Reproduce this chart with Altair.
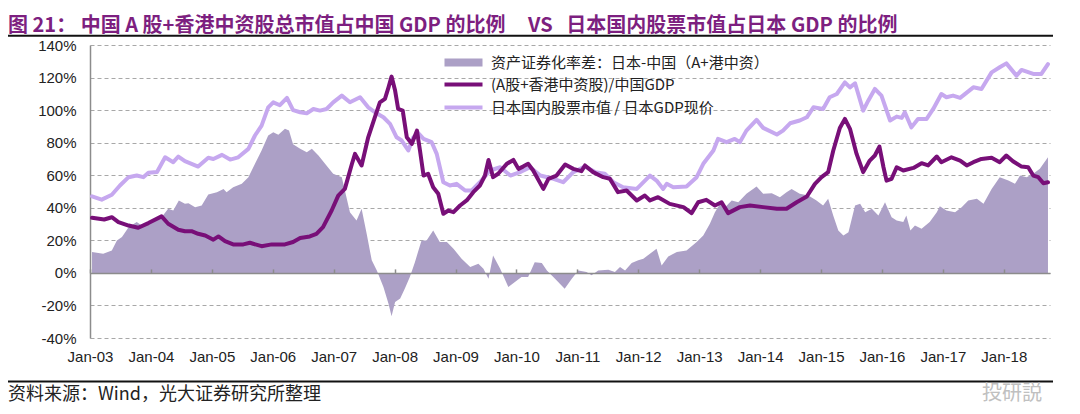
import altair as alt
import pandas as pd

# ---------------- text ----------------
NB = "\u00a0"
title_text = ("图 21：" + NB + "中国 A 股+香港中资股总市值占中国 GDP 的比例" + NB * 5 + "VS" + NB * 3
              + "日本国内股票市值占日本 GDP 的比例")
source_text = "资料来源：Wind，光大证券研究所整理"
watermark_text = "投研説"
area_name = "资产证券化率差：日本-中国（A+港中资）"
china_name = "(A股+香港中资股)/中国GDP"
japan_name = "日本国内股票市值 / 日本GDP现价"

# x = months since Jan-2003
year_ticks = [0, 12, 24, 36, 48, 60, 72, 84, 96, 108, 120, 132, 144, 156, 168, 180]
y_ticks = [-40, -20, 0, 20, 40, 60, 80, 100, 120, 140]

# ---------------- data (% of GDP) ----------------
japan_month = [0.4, 2.3, 4.3, 5.9, 7.6, 9.2, 10.5, 11.5, 13.2, 14.8, 16.4, 17.4, 18.7, 21.3, 23.3, 24.3,
               26.0, 27.6, 29.2, 31.2, 32.5, 33.8, 35.1, 36.1, 37.4, 38.8, 40.0, 41.4, 42.7, 44.0, 45.3,
               46.6, 47.9, 49.6, 51.2, 53.2, 54.8, 56.1, 57.8, 59.1, 60.4, 61.4, 62.7, 63.7, 64.7, 65.7,
               67.3, 68.3, 69.6, 70.9, 72.2, 73.9, 75.2, 76.8, 78.8, 80.8, 82.8, 84.7, 86.7, 88.7, 91.3,
               93.2, 95.2, 97.5, 99.5, 101.4, 103.1, 105.0, 107.7, 110.3, 111.6, 112.9, 113.6, 114.9,
               117.5, 119.5, 120.8, 122.8, 123.7, 125.4, 127.0, 128.0, 129.3, 131.3, 132.6, 135.3, 136.5,
               137.9, 139.8, 141.2, 142.5, 144.4, 145.7, 147.1, 148.7, 149.7, 150.7, 152.3, 153.3, 154.6,
               155.9, 157.6, 158.9, 159.9, 160.5, 161.8, 163.1, 164.8, 166.1, 167.7, 168.7, 170.0, 171.4,
               174.0, 175.6, 177.6, 179.2, 180.5, 182.5, 183.5, 185.8, 187.4, 188.7]
japan_value = [47, 45, 48, 53.7, 58.8, 59.8, 58.8, 61.5, 62, 71, 68, 71.5, 68.6, 65.3, 70.7, 70,
               72.5, 69.6, 71, 76.2, 84.4, 90.5, 101.7, 104.8, 103, 107.5, 100, 98.7, 98, 100.7, 99.7,
               100.7, 104.8, 108.9, 104.8, 107.9, 101.7, 98.7, 95.6, 91.5, 83.3, 81.3, 75.2, 83.3, 85.8, 82.3,
               80.3, 73.1, 55.7, 53.7, 54.7, 50.6, 50.6, 55.7, 62.9, 64.9, 59.8, 61.9, 64.9, 59.8, 57.8,
               55.7, 61.9, 65.3, 61.9, 60.9, 55.7, 52.6, 51.6, 59.8, 56.7, 51.6, 54.7, 52.6,
               53.1, 58.8, 67, 75.2, 82.3, 80.3, 82.3, 80.3, 87.4, 94, 89.1, 85, 87.4,
               91.9, 93.6, 95.6, 101.7, 100.7, 107.9, 109.9, 117, 114, 116.5, 99.7, 105.8, 113,
               108.9, 93.6, 96, 95.2, 98.7, 89.4, 94.6, 94.6, 100.7, 109.9, 107.9, 108.9, 107.5,
               114, 113, 123.2, 126.3, 128.7, 121.2, 124.7, 122.2, 122.2, 128.3]

china_month = [0.4, 2.8, 4.3, 5.6, 7.6, 9.5, 11.5, 14.1, 15.4, 17.4, 18.7, 20.0, 21.3, 22.7, 24.3, 25.3,
               26.6, 28.2, 30.2, 31.5, 33.8, 35.8, 38.4, 40.0, 41.4, 43.3, 44.6, 45.9, 47.6, 48.9, 50.2,
               51.6, 52.2, 53.5, 54.8, 56.1, 57.1, 58.1, 58.8, 59.4, 60.1, 60.7, 61.6, 62.4, 63.4, 64.4,
               65.0, 65.7, 66.6, 67.6, 68.6, 69.6, 70.6, 71.6, 72.9, 74.2, 75.5, 76.8, 77.8, 78.5, 79.4,
               80.4, 82.1, 83.4, 84.4, 85.3, 86.3, 87.3, 89.3, 90.3, 91.9, 93.6, 95.2, 96.8, 97.5, 99.1,
               101.1, 102.4, 104.0, 105.7, 107.7, 109.3, 110.3, 111.9, 114.2, 116.9, 118.5, 119.8, 121.4,
               123.1, 124.4, 125.7, 128.0, 130.0, 132.6, 135.3, 137.2, 139.2, 141.2, 142.8, 144.1, 145.4,
               146.4, 147.7, 148.7, 149.7, 151.0, 152.3, 153.6, 154.6, 155.5, 156.3, 156.9, 157.9, 158.9,
               160.2, 162.2, 163.8, 165.1, 166.8, 167.7, 169.7, 171.4, 172.7, 174.0, 175.6, 177.6, 179.2,
               180.5, 181.8, 183.5, 184.8, 185.8, 186.8, 187.8, 188.7]
china_value = [33.9, 32.8, 34.2, 31.2, 29.1, 27.7, 30.6, 34.7, 30.2, 26.5, 25.6, 25.6, 24, 23, 20.4, 22.4,
               19.5, 17.5, 17.5, 18.5, 16.4, 17.5, 17.5, 19, 21.4, 22.4, 24, 28.1, 38.3, 47.5, 51.6,
               67, 73.1, 66, 83.3, 95.6, 104.8, 106.9, 114, 120.6, 112, 100.7, 99.7, 83.3, 79.3, 87.4,
               75.2, 59.8, 60.9, 52.6, 48.6, 36.3, 38.3, 37.3, 41.4, 44.5, 49.6, 53.7, 59.8, 69.4, 58.8,
               60.9, 67, 69.4, 63.9, 65.3, 67, 62.9, 51.6, 57.8, 59.8, 66.6, 63.9, 62.5, 66, 61.9,
               58.8, 57.8, 49.6, 50.6, 44.5, 47.5, 44.5, 46.5, 42.4, 40.4, 36.7, 43.4, 44.9,
               41.4, 43.4, 36.7, 40.4, 41.4, 40.4, 39.4, 39.4, 43.4, 46.9, 54.7, 58.8, 61.9,
               75, 89, 94.6, 88.5, 73.1, 61.9, 69, 72.1, 77.6, 64.9, 56.7, 57.8, 64.9,
               62.9, 64.5, 67.4, 66, 71.5, 68, 71, 69, 66, 68, 70, 70.7, 68,
               72.1, 68.6, 65.3, 64.9, 59.8, 58.8, 55.1, 55.7]

gap_month = [0.4, 2.6, 4.3, 5.3, 6.3, 7.6, 9.2, 10.2, 12.2, 14.1, 15.4, 16.4, 17.5, 18.7, 19.4, 20.7,
             22.0, 23.3, 25.0, 26.3, 26.9, 28.2, 29.9, 31.2, 32.5, 33.8, 35.1, 36.1, 37.1, 38.4, 39.2,
             40.0, 41.4, 42.7, 43.7, 45.0, 46.3, 47.9, 49.6, 51.2, 52.5, 53.5, 54.5, 55.5, 56.5, 57.8,
             58.8, 59.4, 60.1, 61.1, 62.0, 63.0, 64.0, 65.3, 66.3, 67.6, 68.9, 70.3, 71.6, 73.2, 74.9,
             76.5, 77.5, 78.5, 79.4, 80.8, 82.4, 83.7, 85.0, 86.3, 87.6, 89.0, 90.0, 91.6, 93.5, 94.9,
             96.2, 97.8, 98.8, 100.1, 102.1, 103.4, 104.4, 105.4, 106.7, 108.0, 109.0, 110.3, 111.6,
             112.6, 113.9, 115.6, 117.5, 119.5, 120.8, 122.1, 123.1, 124.1, 125.1, 126.4, 127.7, 129.3,
             131.3, 132.6, 134.3, 135.9, 137.2, 138.2, 139.8, 141.5, 143.1, 144.4, 145.4, 146.4, 147.4,
             148.4, 149.4, 150.7, 151.7, 152.7, 154.0, 155.3, 156.6, 157.9, 158.9, 160.2, 160.8, 161.6,
             162.5, 163.8, 165.4, 166.8, 167.4, 168.7, 170.4, 171.7, 173.0, 174.7, 176.0, 177.6, 179.2,
             180.9, 182.2, 183.2, 184.5, 185.8, 187.1, 188.7]
gap_value = [12.8, 11.8, 13.8, 19.9, 22, 28.1, 31.2, 29.1, 32.2, 34.2, 39.4, 38.3, 44.5, 42.4, 42.8, 40.4,
             41.4, 48.2, 49.6, 51.6, 49.6, 52.6, 54.7, 58.8, 67, 75.2, 84.4, 86.4, 84.8, 88.5, 87.4,
             79, 76.2, 74.1, 76.2, 72.1, 67, 60.9, 58.8, 37.3, 32.2, 39.4, 24, 7.7, 1.5, -8.7,
             -18.9, -26.7, -17.9, -15.8, -9.7, -2.6, 6.6, 19.9, 19.9, 26, 18.9, 18.9, 14.8, 8.7, 3.6,
             5.6, 2.6, -3.6, 10.7, 2.6, -8.7, -5.6, -2.6, -2.6, 6.6, 6, 1.5, -3.6, -9.7, -3.6,
             1.5, 0.5, -1.5, 1.5, 2, 0.5, 3.6, 1.5, 6, 7.7, 8.7, 11.8, 14.8,
             4.6, 10.1, 12.8, 13.8, 18.9, 23, 30.2, 37.3, 42.4, 40.4, 44.5, 43.4, 48.6,
             53.1, 48.6, 49, 46.5, 49.6, 51.6, 48.6, 47.5, 44.5, 41.4, 45.5, 35.3, 26,
             23, 25, 41.4, 42.4, 37.3, 39.4, 35.3, 43.4, 34.2, 32.2, 31.2, 35.3, 26,
             29.1, 27.1, 31.2, 37.3, 41, 38.3, 37.3, 40.4, 44.5, 45.5, 42.4, 51.6, 58.8,
             56.7, 54.7, 59.8, 58.8, 60.9, 63.9, 71]

# ---------------- styling ----------------
W, H = 960, 293
AREA_C = "#aca0c6"
CHINA_C = "#780f78"
JAPAN_C = "#c6a8ef"
TITLE_C = "#7d1f80"
CJK = "Noto Sans CJK SC"
LATIN = "Liberation Sans"

gap_df = pd.DataFrame({"m": gap_month, "v": gap_value, "name": area_name})
japan_df = pd.DataFrame({"m": japan_month, "v": japan_value, "name": japan_name})
china_df = pd.DataFrame({"m": china_month, "v": china_value, "name": china_name})

xs = alt.Scale(domain=[0, 189.1], nice=False, zero=False)
ys = alt.Scale(domain=[-40, 140], nice=False)

y_axis = alt.Axis(values=y_ticks, labelExpr="datum.value + '%'", grid=True, gridDash=[4, 3],
                  gridColor="#a8a8a8", gridWidth=1, domain=True, domainColor="#8c8c8c",
                  domainWidth=1.5, ticks=False, labelPadding=14, labelFont=LATIN,
                  labelFontSize=15, labelColor="#222222", title=None)

bottom_axis = alt.Axis(orient="bottom", values=year_ticks,
                       labelExpr="'Jan-' + (datum.value/12 + 3 < 10 ? '0' : '') + (datum.value/12 + 3)",
                       grid=False, domain=False, ticks=False, labelPadding=11, labelFlush=False,
                       labelFont=LATIN, labelFontSize=15, labelColor="#222222", title=None)

zero_axis = alt.Axis(orient="top", offset=-(H * 140 / 180), values=year_ticks, labels=False,
                     grid=False, domain=True, domainColor="#8c8c8c", domainWidth=1.5,
                     ticks=True, tickSize=4, tickColor="#8c8c8c", tickWidth=1.5, title=None, zindex=1)

fill_legend = alt.Legend(orient="none", legendX=366, legendY=10, title=None,
                         symbolType="M-3.8,-0.8H3.8V0.8H-3.8Z", symbolSize=100, symbolStrokeWidth=0,
                         labelOffset=20, labelFont=CJK, labelFontSize=15, labelColor="#222222",
                         labelLimit=500)
stroke_legend = alt.Legend(orient="none", legendX=366, legendY=32, title=None,
                           symbolType="M-3.8,0H3.8", symbolSize=100, symbolStrokeWidth=4,
                           labelOffset=20, labelFont=CJK, labelFontSize=15, labelColor="#222222",
                           labelLimit=500, rowPadding=6)

stroke_scale = alt.Scale(domain=[china_name, japan_name], range=[CHINA_C, JAPAN_C])

area = alt.Chart(gap_df).mark_area(opacity=1, interpolate="linear").encode(
    x=alt.X("m:Q", scale=xs, axis=bottom_axis),
    y=alt.Y("v:Q", scale=ys, axis=y_axis),
    fill=alt.Fill("name:N", scale=alt.Scale(domain=[area_name], range=[AREA_C]), legend=fill_legend),
)

japan = alt.Chart(japan_df).mark_line(strokeWidth=4, strokeJoin="round", strokeCap="round").encode(
    x=alt.X("m:Q", scale=xs, axis=None),
    y=alt.Y("v:Q", scale=ys, axis=y_axis),
    stroke=alt.Stroke("name:N", scale=stroke_scale, legend=stroke_legend),
)

china = alt.Chart(china_df).mark_line(strokeWidth=4, strokeJoin="round", strokeCap="round").encode(
    x=alt.X("m:Q", scale=xs, axis=zero_axis),
    y=alt.Y("v:Q", scale=ys, axis=y_axis),
    stroke=alt.Stroke("name:N", scale=stroke_scale, legend=stroke_legend),
)

# ---------------- decorations (title, rules, source) ----------------
title = alt.Chart(pd.DataFrame({"t": [title_text]})).mark_text(
    align="left", baseline="alphabetic", font=CJK, fontSize=20, fontWeight="bold", color=TITLE_C
).encode(text="t:N", x=alt.value(-82), y=alt.value(-13.2))

top_rule = alt.Chart(pd.DataFrame({"a": [0]})).mark_rule(color="#111111", strokeWidth=2).encode(
    x=alt.value(-82), x2=alt.value(963), y=alt.value(-9.2))

bottom_rule = alt.Chart(pd.DataFrame({"a": [0]})).mark_rule(color="#111111", strokeWidth=2).encode(
    x=alt.value(-82), x2=alt.value(963), y=alt.value(336.5))

source = alt.Chart(pd.DataFrame({"t": [source_text]})).mark_text(
    align="left", baseline="middle", font=CJK, fontSize=18, color="#222222"
).encode(text="t:N", x=alt.value(-82), y=alt.value(350))

watermark = alt.Chart(pd.DataFrame({"t": [watermark_text]})).mark_text(
    align="center", baseline="middle", font="Noto Sans CJK JP", fontSize=20, color="#c0c0c0"
).encode(text="t:N", x=alt.value(922), y=alt.value(349))

chart = alt.layer(area, japan, china, title, top_rule, bottom_rule, source, watermark).resolve_axis(
    x="independent"
).properties(
    width=W, height=H,
    autosize=alt.AutoSizeParams(type="none"),
    padding={"left": 82, "top": 37, "right": 22, "bottom": 68},
    background="white",
).configure_view(stroke=None)

chart.save("out.html", embed_options={"renderer": "svg", "actions": False})
